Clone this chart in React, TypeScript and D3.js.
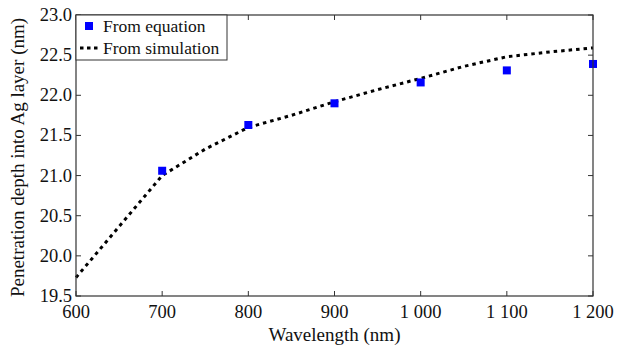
import React from "react";
import * as d3 from "d3";

const eqWavelength = [700, 800, 900, 1000, 1100, 1200];
const eqDepth = [21.06, 21.63, 21.9, 22.16, 22.31, 22.39];

const simWavelength = [600, 700, 750, 800, 850, 900, 950, 1000, 1050, 1100, 1150, 1200];
const simDepth = [19.73, 21.0, 21.33, 21.6, 21.75, 21.92, 22.07, 22.21, 22.36, 22.48, 22.54, 22.59];

const xTicks = [600, 700, 800, 900, 1000, 1100, 1200];
const xTickLabels = ["600", "700", "800", "900", "1 000", "1 100", "1 200"];
const yTicks = [19.5, 20.0, 20.5, 21.0, 21.5, 22.0, 22.5, 23.0];

const W = 630;
const H = 352;
const L = 76, R = 593, T = 15, B = 296;
const FONT = "Times, 'Liberation Serif', serif";

export default function App() {
  const x = d3.scaleLinear().domain([600, 1200]).range([L, R]);
  const y = d3.scaleLinear().domain([19.5, 23.0]).range([B, T]);
  const line = d3
    .line<number>()
    .x((_, i) => x(simWavelength[i]))
    .y((d) => y(d));
  const tick = 5;
  const frame = "#333";
  return (
    <svg width={W} height={H} style={{ position: "absolute", left: 0, top: 0, background: "#fff" }}>
      <path
        d={line(simDepth) || ""}
        fill="none"
        stroke="#000"
        strokeWidth={3}
        strokeDasharray="3.5 4"
      />
      {eqDepth.map((d, i) => (
        <rect
          key={i}
          x={x(eqWavelength[i]) - 4}
          y={y(d) - 4}
          width={8}
          height={8}
          fill="#0000ff"
        />
      ))}
      <rect x={L} y={T} width={R - L} height={B - T} fill="none" stroke={frame} strokeWidth={1.2} />
      {xTicks.map((t, i) => (
        <g key={"x" + i}>
          <line x1={x(t)} x2={x(t)} y1={B} y2={B - tick} stroke={frame} strokeWidth={1} />
          <line x1={x(t)} x2={x(t)} y1={T} y2={T + tick} stroke={frame} strokeWidth={1} />
          <text x={x(t)} y={B + 22} textAnchor="middle" fontFamily={FONT} fontSize={18.5} fill="#111">
            {xTickLabels[i]}
          </text>
        </g>
      ))}
      {yTicks.map((t, i) => (
        <g key={"y" + i}>
          <line x1={L} x2={L + tick} y1={y(t)} y2={y(t)} stroke={frame} strokeWidth={1} />
          <line x1={R} x2={R - tick} y1={y(t)} y2={y(t)} stroke={frame} strokeWidth={1} />
          <text x={L - 4} y={y(t) + 6} textAnchor="end" fontFamily={FONT} fontSize={18.5} fill="#111">
            {t.toFixed(1)}
          </text>
        </g>
      ))}
      <text x={(L + R) / 2} y={341} textAnchor="middle" fontFamily={FONT} fontSize={19} fill="#111">
        Wavelength (nm)
      </text>
      <text
        transform={`translate(24, ${(T + B) / 2 + 2}) rotate(-90)`}
        textAnchor="middle"
        fontFamily={FONT}
        fontSize={19}
        fill="#111"
      >
        Penetration depth into Ag layer (nm)
      </text>
      <rect x={L} y={T} width={151} height={45} fill="#fff" stroke={frame} strokeWidth={1} />
      <rect x={85} y={22} width={8} height={8} fill="#0000ff" />
      <text x={103} y={32} fontFamily={FONT} fontSize={17.5} fill="#111">
        From equation
      </text>
      <line x1={80} x2={101} y1={48} y2={48} stroke="#000" strokeWidth={3} strokeDasharray="3.5 3.5" />
      <text x={103} y={54} fontFamily={FONT} fontSize={17.5} fill="#111">
        From simulation
      </text>
    </svg>
  );
}
